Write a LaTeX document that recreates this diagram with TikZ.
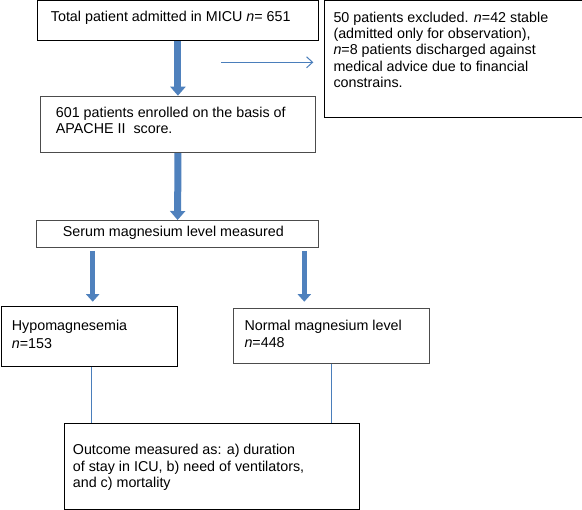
\documentclass[tikz,border=0pt]{standalone}
\usepackage{fontspec}
\setmainfont{Liberation Sans}
\usetikzlibrary{arrows.meta}
\definecolor{arrblue}{HTML}{4F81BD}
\definecolor{lineblue}{HTML}{4A7EBB}
\newcommand{\lns}[1]{\begin{tabular}[t]{@{}l@{}}#1\end{tabular}}
\begin{document}
\begin{tikzpicture}[x=1pt,y=-1pt,
  box/.style={draw=black, line width=0.9pt, rectangle, inner sep=0pt, anchor=north west},
  gbox/.style={box, draw=black!70},
  txt/.style={anchor=base west, inner sep=0pt, font=\fontsize{14.3}{16.2}\selectfont},
  thickarr/.style={draw=arrblue, line width=7pt, -{Triangle[width=15pt,length=9pt]}},
  medarr/.style={draw=arrblue, line width=5.5pt, -{Triangle[width=13pt,length=7.5pt]}},
  thinarr/.style={draw=lineblue, line width=1pt, -{Straight Barb[length=6pt,width=11pt]}},
  thinline/.style={draw=lineblue, line width=0.8pt}]
\useasboundingbox (0,0) rectangle (582,510);
\fill[white] (0,0) rectangle (582,510);

% boxes
\node[box,  minimum width=281.6pt, minimum height=39.8pt] (b1) at (36.7,0.5) {};
\node[box,  minimum width=257.2pt, minimum height=116.8pt] (b2) at (324.3,0.5) {};
\node[gbox, minimum width=275pt,   minimum height=56.6pt] (b3) at (40,95.7) {};
\node[gbox, minimum width=282.3pt, minimum height=26.7pt] (b4) at (36,220) {};
\node[box,  minimum width=176.8pt, minimum height=59.7pt] (b5) at (0.5,306) {};
\node[gbox, minimum width=195.7pt, minimum height=55pt]   (b6) at (233.3,308.3) {};
\node[box,  minimum width=295pt,   minimum height=86pt]   (b7) at (64.3,423.3) {};

% texts
\node[txt] (t1) at (50.7,21.7) {Total patient admitted in MICU \textit{n}= 651};
\node[txt] (t2) at (333.3,22.5) {\lns{50 patients excluded. \textit{n}=42 stable\\
(admitted only for observation),\\
\textit{n}=8 patients discharged against\\
medical advice due to financial\\
constrains.}};
\node[txt] (t3) at (55.7,117.3) {\lns{601 patients enrolled on the basis of\\
APACHE II\ \ score.}};
\node[txt] (t4) at (62.7,236.7) {Serum magnesium level measured};
\node[txt] (t5) at (11.7,330.7) {\lns{Hypomagnesemia\\[1.4pt] \textit{n}=153}};
\node[txt] (t6) at (244.3,331) {\lns{Normal magnesium level\\[0.8pt] \textit{n}=448}};
\node[txt] (t7) at (72.7,455) {\lns{Outcome measured as: a) duration\\
of stay in ICU, b) need of ventilators,\\
and c) mortality}};

% connectors
\draw[thickarr] (b1.south) -- (b3.north);
\draw[thickarr] (b3.south) -- (b4.north);
\draw[medarr] ([xshift=56.7pt,yshift=-3.3pt]b4.south west) -- ([xshift=92.2pt,yshift=4.3pt]b5.north west);
\draw[medarr] ([xshift=268.3pt,yshift=-3.3pt]b4.south west) -- ([xshift=71pt,yshift=6.6pt]b6.north west);
\coordinate (ta) at (221,62.3);
\draw[thinarr, shorten >=11pt] (ta) -- (ta -| b2.west);
\draw[thinline] ([xshift=2pt]b5.south) -- ([xshift=2pt]b5.south |- b7.north);
\draw[thinline] (b6.south) -- (b6.south |- b7.north);
\end{tikzpicture}
\end{document}
